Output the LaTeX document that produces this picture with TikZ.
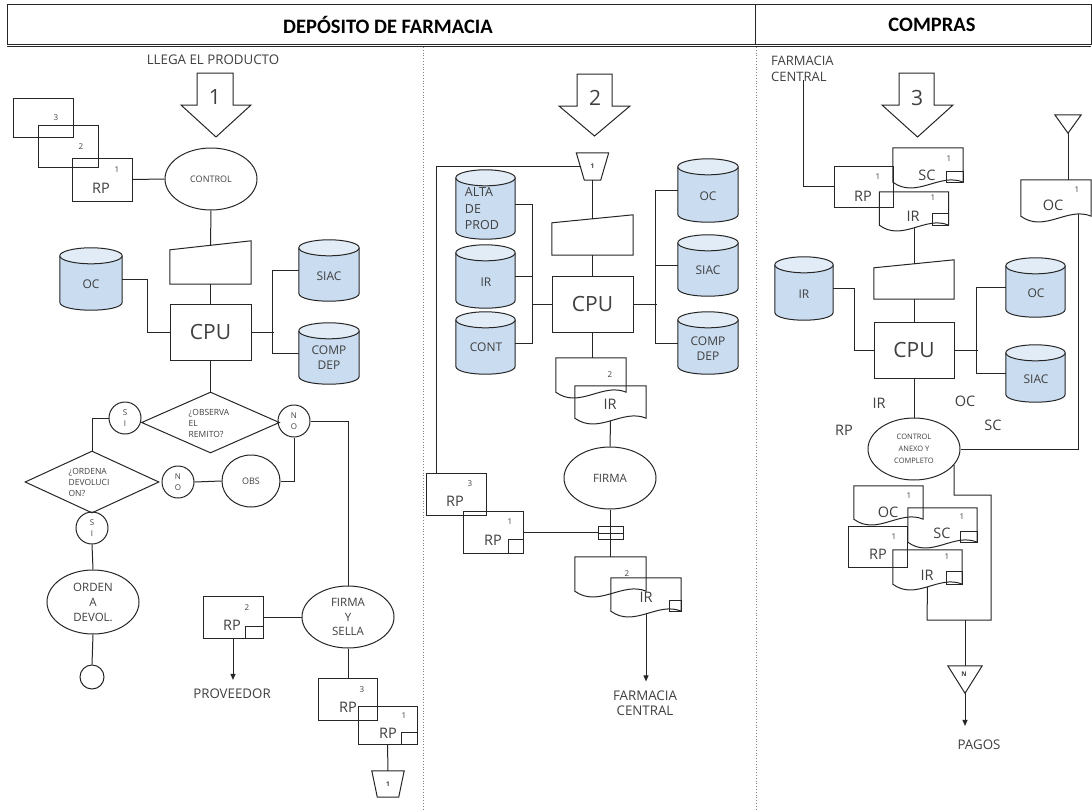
\documentclass[tikz,border=0pt]{standalone}
\usepackage{fontspec}
\setmainfont{Open Sans}
\newfontfamily\hdrfont{Carlito}
\usetikzlibrary{shapes.geometric,arrows.meta,calc}
\pgfdeclarelayer{bg}
\pgfsetlayers{bg,main}
\definecolor{ln}{HTML}{262626}
\definecolor{tx}{HTML}{404040}
\definecolor{cylb}{HTML}{C9DCF0}
\definecolor{cylt}{HTML}{E2ECF7}
\newcommand\fsz[2]{\fontsize{#1}{#2}\selectfont}
% block arrow: shaft x1,x2, top y, head y, head x1,x2, tip y
\newcommand\barrow[7]{\draw[lnst] (#1,#3) -- (#2,#3) -- (#2,#4) -- (#6,#4) -- ({(#5+#6)/2},#7) -- (#5,#4) -- (#1,#4) -- cycle;}
% cylinder drawn behind a named node
\newcommand\cylsh[1]{%
\begin{pgfonlayer}{bg}
\filldraw[fill=cylb, draw=ln, line width=1pt] let \p1=(#1.north west), \p2=(#1.south east) in
 (\x1,{\y1-8pt}) -- (\x1,{\y2+8pt}) .. controls (\x1,{\y2-2.667pt}) and (\x2,{\y2-2.667pt}) .. (\x2,{\y2+8pt}) -- (\x2,{\y1-8pt});
\filldraw[fill=cylt, draw=ln, line width=1pt] let \p1=(#1.north west), \p2=(#1.south east) in
 ({(\x1+\x2)/2},{\y1-8pt}) ellipse [x radius={(\x2-\x1)/2}, y radius=8pt];
\end{pgfonlayer}}
% document with wavy bottom
\newcommand\docsh[1]{\draw[lnst] let \p1=(#1.north west), \p2=(#1.south east), \n1={\x2-\x1} in
 (\x1,\y1) -- (\x2,\y1) -- (\x2,{\y2+6pt}) .. controls ({\x2-\n1/3},{\y2+16pt}) and ({\x1+\n1/3},{\y2-11pt}) .. (\x1,{\y2+6pt}) -- cycle;}
% small square in document (above wave end)
\newcommand\dsq[3]{\draw[lnst] ([xshift=-#2,yshift=6pt]#1.south east) rectangle ([yshift={6pt+#3}]#1.south east);}
% small square in box corner
\newcommand\bsq[3]{\draw[lnst] ([xshift=-#2]#1.south east) rectangle ([yshift=#3]#1.south east);}
% manual input
\newcommand\minp[2]{\draw[lnst] (#1.south west) -- (#1.south east) -- (#1.north east) -- ([yshift=-#2]#1.north west) -- cycle;}
% off-page connector
\newcommand\offp[2]{\draw[lnst] (#1.north west) -- (#1.north east) -- ([xshift=-#2]#1.south east) -- ([xshift=#2]#1.south west) -- cycle;}

\tikzset{
 lnst/.style={draw=ln, line width=1pt},
 boxst/.style={rectangle, draw=ln, line width=1pt, inner sep=0pt},
 ghost/.style={rectangle, inner sep=0pt, text=tx},
 ellst/.style={ellipse, draw=ln, line width=1pt, inner sep=0pt, align=center, text=tx},
 circst/.style={circle, draw=ln, line width=1pt, inner sep=0pt, minimum size=32pt, align=center, text=tx, font=\fsz{8}{11}},
 diast/.style={diamond, draw=ln, line width=1pt, inner sep=0pt},
 lbl/.style={inner sep=0pt, text=tx, align=center, font=\fsz{13.3}{15}},
 cyltx/.style={inner sep=0pt, text=tx, align=center, font=\fsz{12}{15}},
 supst/.style={inner sep=0pt, text=tx, font=\fsz{8}{9}},
 rpst/.style={inner sep=0pt, text=tx, font=\fsz{14.5}{16}},
 cpust/.style={rectangle, draw=ln, line width=1pt, inner sep=0pt, text=tx, font=\fsz{21}{24}},
 bignum/.style={inner sep=0pt, text=tx, font=\fsz{21}{24}},
 arr/.style={lnst, -{Triangle[length=6pt,width=5pt]}},
}

\begin{document}
\begin{tikzpicture}[x=1pt,y=-1pt]
\useasboundingbox (0,0) rectangle (1092,811);
\begin{pgfonlayer}{bg}
\fill[white] (0,0) rectangle (1092,811);
\end{pgfonlayer}

% ---------- header ----------
\draw[lnst] (7,4) rectangle (1091,44);
\draw[lnst] (7,46.5) -- (1091,46.5);
\draw[lnst] (755,4) -- (755,44);
\draw[gray, dotted, line width=0.8pt] (423,47) -- (423,811);
\draw[gray, dotted, line width=0.8pt] (756,47) -- (756,811);
\node[inner sep=0pt, font=\hdrfont\bfseries\fsz{20.5}{22}, text=black] (hd1) at (388,25) {DEPÓSITO DE FARMACIA};
\node[inner sep=0pt, font=\hdrfont\bfseries\fsz{20.5}{22}, text=black] (hd2) at (932,25) {COMPRAS};

% ---------- left lane ----------
\node[lbl] (llega) at (213,60) {LLEGA EL PRODUCTO};
\barrow{197}{233}{73}{105}{181}{251}{137}
\node[bignum] (n1) at (215,97) {1};

\node[boxst, minimum width=60pt, minimum height=39pt] (L3) at (43,117.5) {};
\node[supst] (L3s) at (56,118) {3};
\node[boxst, minimum width=60pt, minimum height=42pt] (L2) at (68,146) {};
\node[supst] (L2s) at (81,147) {2};
\node[boxst, minimum width=60pt, minimum height=43pt] (L1) at (102,179.5) {};
\node[supst] (L1s) at (117,170) {1};
\node[rpst] (L1t) at (101,188) {RP};

\node[ellst, minimum width=92pt, minimum height=62pt, font=\fsz{9}{11}] (ctrl) at (211,179) {CONTROL};
\node[ghost, minimum width=81pt, minimum height=43pt] (mi1) at (210.5,262.5) {};
\minp{mi1}{9pt}
\node[cpust, minimum width=81pt, minimum height=56pt] (cpu1) at (210.5,332) {CPU};

\node[ghost, minimum width=62pt, minimum height=62pt] (oc1) at (91,279) {};
\cylsh{oc1}
\node[cyltx] (oc1t) at (91,284) {OC};
\node[ghost, minimum width=60pt, minimum height=61pt] (siac1) at (329,270.5) {};
\cylsh{siac1}
\node[cyltx] (siac1t) at (329,276) {SIAC};
\node[ghost, minimum width=60pt, minimum height=61pt] (cd1) at (329,353.5) {};
\cylsh{cd1}
\node[cyltx] (cd1t) at (329,358) {COMP\\DEP};

\node[diast, minimum width=138pt, minimum height=61pt] (d1) at (210.5,422.5) {};
\node[lbl, align=left, font=\fsz{8.5}{11}] (d1t) at (209,423) {¿OBSERVA\\EL\\REMITO?};
\node[circst] (si1) at (125,418) {S\\I};
\node[circst] (no1) at (294,421) {N\\O};
\node[diast, minimum width=134pt, minimum height=62pt] (d2) at (92,482) {};
\node[lbl, align=left, font=\fsz{8.5}{11}] (d2t) at (89,482) {¿ORDENA\\DEVOLUCI\\ON?};
\node[circst] (no2) at (178,482) {N\\O};
\node[ellst, minimum width=58pt, minimum height=52pt, font=\fsz{9}{11}] (obs) at (251,481) {OBS};
\node[circst] (si2) at (92,528) {S\\I};
\node[ellst, minimum width=92pt, minimum height=64pt, font=\fsz{11.5}{15}] (ord) at (93,602) {ORDEN\\A\\DEVOL.};
\node[circle, draw=ln, line width=1pt, minimum size=24pt, inner sep=0pt] (endc) at (92,677) {};

\node[ellst, minimum width=92pt, minimum height=62pt, font=\fsz{11.5}{14.5}] (fys) at (348,617) {FIRMA\\Y\\SELLA};
\node[boxst, minimum width=60pt, minimum height=42pt] (rp2) at (233,617) {};
\node[supst] (rp2s) at (247,608) {2};
\node[rpst] (rp2t) at (232,625) {RP};
\bsq{rp2}{18pt}{12pt}
\node[lbl] (prov) at (232,694) {PROVEEDOR};
\node[boxst, minimum width=59pt, minimum height=42pt] (rpb3) at (347.5,699) {};
\node[supst] (rpb3s) at (362,690) {3};
\node[rpst] (rpb3t) at (348,707) {RP};
\node[boxst, minimum width=59pt, minimum height=38pt] (rpb1) at (387.5,725) {};
\node[supst] (rpb1s) at (404,716) {1};
\node[rpst] (rpb1t) at (388,733) {RP};
\bsq{rpb1}{16pt}{12pt}
\node[ghost, minimum width=32pt, minimum height=26pt, font=\bfseries\fsz{6.5}{7}] (op1) at (388,784) {1};
\offp{op1}{5.5pt}

\draw[lnst] (L1.east) -- (ctrl.west);
\draw[lnst] (ctrl.south) -- ([yshift=-4.5pt]mi1.north);
\draw[lnst] (mi1.south) -- (cpu1.north);
\draw[lnst] (oc1.east) -- ++(25,0) |- (cpu1.west);
\draw[lnst] (siac1.west) -- ++(-26,0) |- (cd1.west);
\draw[lnst] (cpu1.east) -- ++(22,0);
\draw[lnst] (cpu1.south) -- (d1.north);
\draw[lnst] (si1.west) -| (d2.north);
\draw[lnst] (no2.east) -- (obs.west);
\draw[lnst] (obs.east) -| (no1.south);
\draw[lnst] (no1.east) -| (fys.north);
\draw[lnst] (si2.south) -- (ord.north);
\draw[lnst] (ord.south) -- (endc.north);
\draw[lnst] (rp2.east) -- (fys.west);
\draw[arr, shorten >=9pt] (rp2.south) -- (rp2.south |- prov.north);
\draw[lnst] (fys.south) -- (fys.south |- rpb3.north);
\draw[lnst] (rpb1.south) -- (op1.north);

% ---------- middle lane ----------
\barrow{577}{612}{74}{106}{559}{630}{136}
\node[bignum] (n2) at (595,98) {2};
\node[ghost, minimum width=32pt, minimum height=27pt, font=\bfseries\fsz{6.5}{7}] (op2) at (592.5,166.5) {1};
\offp{op2}{8pt}
\node[ghost, minimum width=81pt, minimum height=40pt] (mi2) at (592.5,235) {};
\minp{mi2}{8pt}
\node[cpust, minimum width=81pt, minimum height=56pt] (cpu2) at (592.5,304) {CPU};

\node[ghost, minimum width=59pt, minimum height=69pt] (alta) at (485.5,204.5) {};
\cylsh{alta}
\node[cyltx, align=left, font=\fsz{12.5}{16.5}] (altat) at (482,209) {ALTA\\DE\\PROD};
\node[ghost, minimum width=59pt, minimum height=63pt] (irc2) at (485.5,276.5) {};
\cylsh{irc2}
\node[cyltx] (irc2t) at (486,282) {IR};
\node[ghost, minimum width=59pt, minimum height=62pt] (cont) at (485.5,343) {};
\cylsh{cont}
\node[cyltx] (contt) at (486,347) {CONT};
\node[ghost, minimum width=60pt, minimum height=63pt] (oc2) at (708,190.5) {};
\cylsh{oc2}
\node[cyltx] (oc2t) at (708,196) {OC};
\node[ghost, minimum width=60pt, minimum height=61pt] (siac2) at (708,265.5) {};
\cylsh{siac2}
\node[cyltx] (siac2t) at (708,270) {SIAC};
\node[ghost, minimum width=60pt, minimum height=62pt] (cd2) at (708,343) {};
\cylsh{cd2}
\node[cyltx] (cd2t) at (708,348.5) {COMP\\DEP};

\node[ghost, minimum width=70pt, minimum height=40pt] (dm2) at (591,378) {};
\docsh{dm2}
\node[supst] (dm2s) at (610,375) {2};
\node[ghost, minimum width=71pt, minimum height=38pt] (dmIR) at (610.5,405) {};
\docsh{dmIR}
\node[rpst] (dmIRt) at (610,404) {IR};

\node[ellst, minimum width=92pt, minimum height=62pt, font=\fsz{11.5}{14}] (firma2) at (610,478) {FIRMA};
\node[boxst, minimum width=60pt, minimum height=42pt] (rpm3) at (456,494) {};
\node[supst] (rpm3s) at (470,484) {3};
\node[rpst] (rpm3t) at (455,501) {RP};
\node[boxst, minimum width=60pt, minimum height=42pt] (rpm1) at (493,532) {};
\node[supst] (rpm1s) at (510,522) {1};
\node[rpst] (rpm1t) at (493,540) {RP};
\bsq{rpm1}{15pt}{14pt}
\node[boxst, minimum width=25pt, minimum height=13pt] (cx2) at (610.5,533) {};
\draw[lnst] (cx2.west) -- (cx2.east);
\node[ghost, minimum width=71pt, minimum height=40pt] (dmb2) at (610.5,577) {};
\docsh{dmb2}
\node[supst] (dmb2s) at (627,574) {2};
\node[ghost, minimum width=70pt, minimum height=39pt] (dmbIR) at (646,597.5) {};
\docsh{dmbIR}
\node[rpst] (dmbIRt) at (646,597) {IR};
\dsq{dmbIR}{12pt}{11pt}
\node[lbl] (fc2) at (645,703) {FARMACIA\\CENTRAL};

\draw[lnst] ([xshift=4pt]op2.west) -| ([xshift=11pt]rpm3.north west);
\draw[lnst] (op2.south) -- ([yshift=-4pt]mi2.north);
\draw[lnst] (mi2.south) -- (cpu2.north);
\draw[lnst] (alta.east) -- ++(17,0) |- (cont.east);
\draw[lnst] (irc2.east) -- ++(17,0);
\draw[lnst] (cpu2.west) -- ++(-20,0);
\draw[lnst] (oc2.west) -- ++(-22,0) |- (cd2.west);
\draw[lnst] (siac2.west) -- ++(-22,0);
\draw[lnst] (cpu2.east) -- ++(23,0);
\draw[lnst] (cpu2.south) -- (cpu2.south |- dm2.north);
\draw[lnst] ([yshift=3pt]dmIR.south) -- (firma2.north);
\draw[lnst] (rpm1.east) -- (rpm1.east -| cx2.west);
\draw[lnst] (firma2.south) -- (firma2.south |- dmb2.north);
\draw[arr, shorten >=9pt] ([yshift=3pt]dmbIR.south) -- (dmbIR.south |- fc2.north);

% ---------- right lane ----------
\node[lbl, align=left, anchor=north west, font=\fsz{13}{16}] (fcr) at (771,56) {FARMACIA\\CENTRAL};
\coordinate (fcrx) at (803,80);
\barrow{899}{934}{73}{105}{882}{953}{137}
\node[bignum] (n3) at (917,98) {3};

\node[boxst, minimum width=59pt, minimum height=41pt] (rpr) at (863.5,186.5) {};
\node[supst] (rprs) at (878,177) {1};
\node[rpst] (rprt) at (863,196) {RP};
\node[ghost, minimum width=70pt, minimum height=40pt] (scr) at (928,168) {};
\docsh{scr}
\node[supst] (scrs) at (949,159) {1};
\node[rpst] (scrt) at (927,175) {SC};
\dsq{scr}{17pt}{11pt}
\node[ghost, minimum width=69pt, minimum height=39pt] (irr) at (914,211.5) {};
\docsh{irr}
\node[supst] (irrs) at (933,198) {1};
\node[rpst] (irrt) at (913,216) {IR};
\dsq{irr}{16pt}{12pt}

\node[ghost, minimum width=80pt, minimum height=39pt] (mi3) at (914,279.5) {};
\minp{mi3}{8pt}
\node[cpust, minimum width=80pt, minimum height=56pt] (cpu3) at (914,350) {CPU};
\node[ghost, minimum width=58pt, minimum height=63pt] (irc3) at (804,288.5) {};
\cylsh{irc3}
\node[cyltx] (irc3t) at (804,294) {IR};
\node[ghost, minimum width=59pt, minimum height=59pt] (oc3) at (1035.5,287.5) {};
\cylsh{oc3}
\node[cyltx] (oc3t) at (1036,293) {OC};
\node[ghost, minimum width=59pt, minimum height=57pt] (siac3) at (1035.5,373.5) {};
\cylsh{siac3}
\node[cyltx] (siac3t) at (1036,379) {SIAC};

\node[rpst] (lbIR) at (879,403) {IR};
\node[rpst] (lbOC) at (965,401) {OC};
\node[rpst] (lbRP) at (844,430) {RP};
\node[rpst] (lbSC) at (993,425) {SC};
\node[ellst, minimum width=92pt, minimum height=62pt, font=\fsz{7.5}{12}] (cac) at (914,449) {CONTROL\\ANEXO Y\\COMPLETO};

\node[ghost, minimum width=26pt, minimum height=18pt] (tri1) at (1068,124) {};
\draw[lnst] (tri1.north west) -- (tri1.north east) -- (tri1.south) -- cycle;
\node[ghost, minimum width=70pt, minimum height=42pt] (ocr) at (1056,201) {};
\docsh{ocr}
\node[supst] (ocrs) at (1077,190) {1};
\node[rpst] (ocrt) at (1053,205) {OC};

\node[ghost, minimum width=69pt, minimum height=39pt] (ocb) at (888.5,505.5) {};
\docsh{ocb}
\node[supst] (ocbs) at (909,496) {1};
\node[rpst] (ocbt) at (888,512) {OC};
\node[ghost, minimum width=69pt, minimum height=40pt] (scb) at (942.5,528) {};
\docsh{scb}
\node[supst] (scbs) at (962,517) {1};
\node[rpst] (scbt) at (942,533) {SC};
\dsq{scb}{17pt}{11pt}
\node[boxst, minimum width=59pt, minimum height=41pt] (rpb) at (877.5,546.5) {};
\node[supst] (rpbs) at (894,537) {1};
\node[rpst] (rpbt) at (878,554) {RP};
\node[ghost, minimum width=69pt, minimum height=40pt] (irr2) at (927.5,570) {};
\docsh{irr2}
\node[supst] (irr2s) at (947,557) {1};
\node[rpst] (irr2t) at (927,575) {IR};
\dsq{irr2}{16pt}{13pt}

\coordinate (cacb) at (954,465);
\coordinate (jn) at (965,620);
\node[ghost, minimum width=34pt, minimum height=27pt] (trN) at (965,679.5) {};
\draw[lnst] (trN.north west) -- (trN.north east) -- (trN.south) -- cycle;
\node[inner sep=0pt, text=tx, font=\bfseries\fsz{6.5}{7}] (trNt) at (964,674) {N};
\node[lbl] (pagos) at (979,745) {PAGOS};

\draw[lnst] (fcrx) |- (rpr.west);
\draw[lnst] ([yshift=3pt]irr.south) -- ([yshift=-4pt]mi3.north);
\draw[lnst] (mi3.south) -- (cpu3.north);
\draw[lnst] (irc3.east) -- ++(21,0) |- (cpu3.west);
\draw[lnst] (oc3.west) -- ++(-29,0) |- (siac3.west);
\draw[lnst] (cpu3.east) -- ++(23,0);
\draw[lnst] (cpu3.south) -- (cac.north);
\draw[lnst] (tri1.south) -- (tri1.south |- ocr.north);
\draw[lnst] ([xshift=-13pt,yshift=8pt]ocr.south east) |- (cac.east);
\draw[lnst] (cacb) -- ++(0,30) -- ++(37,0) -- ++(0,125) -- ++(-64,0) -- ([yshift=3pt]irr2.south);
\draw[lnst] (jn) -- (trN.north);
\draw[arr, shorten >=14pt] (trN.south) -- (trN.south |- pagos.north);
\end{tikzpicture}
\end{document}
